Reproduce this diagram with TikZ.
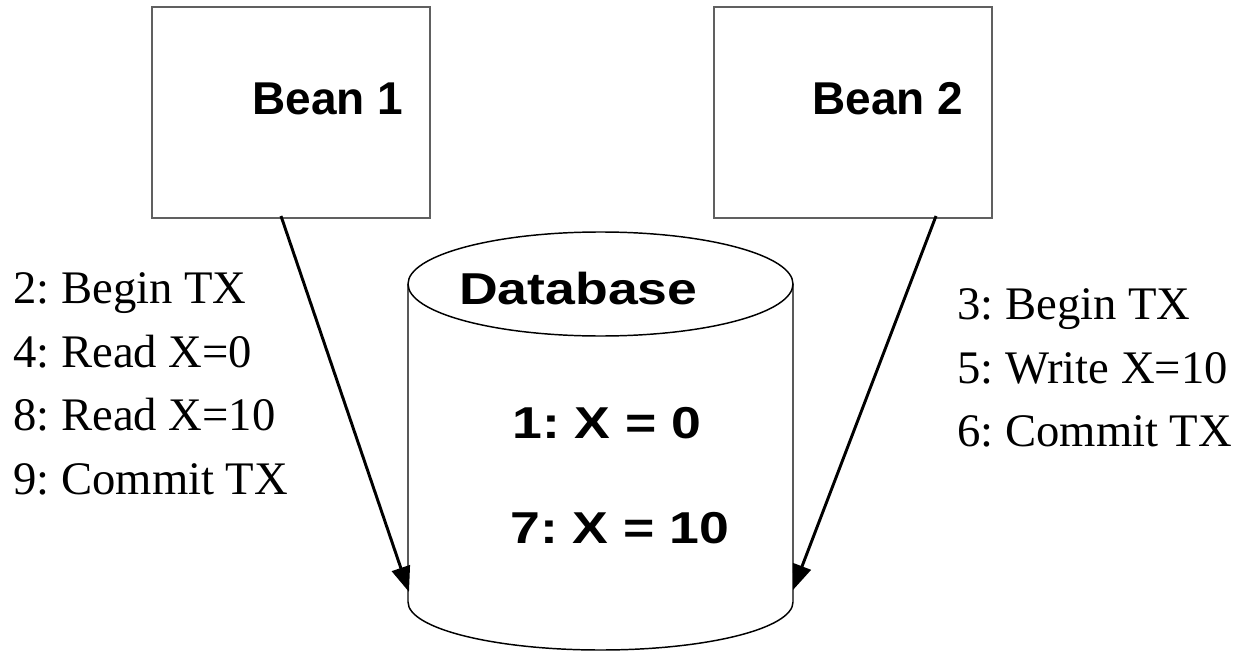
\documentclass[tikz,border=0pt]{standalone}
\usepackage{fontspec}
\setmainfont{Liberation Serif}
\newfontfamily\headfont{Liberation Sans}
\usetikzlibrary{arrows.meta}
\definecolor{boxgray}{RGB}{96,96,96}
\newcommand{\widetext}[1]{\scalebox{1.2}[1]{#1}}
\begin{document}
\frenchspacing
\begin{tikzpicture}[x=0.75pt,y=-0.75pt,
  beanbox/.style={draw=boxgray, line width=0.9pt, minimum width=208.5pt,
    minimum height=158.25pt, inner sep=0pt},
  headtext/.style={anchor=base west, inner sep=0pt, font=\headfont\bfseries\fontsize{33.5pt}{40pt}\selectfont},
  beantext/.style={headtext, font=\headfont\bfseries\fontsize{34.5pt}{41pt}\selectfont},
  steptext/.style={anchor=base west, inner sep=0pt, font=\fontsize{35pt}{42pt}\selectfont},
  call/.style={line width=2.2pt, -{Triangle[length=19pt,width=14pt]}},
  dbline/.style={line width=1.1pt}
]
\useasboundingbox (0,0) rectangle (1241,652);

% the two session beans
\node[beanbox] (bean1) at (291,112.5) {};
\node[beanbox] (bean2) at (853,112.5) {};
\node[beantext] (bean1label) at (252,115) {Bean 1};
\node[beantext] (bean2label) at (812,115) {Bean 2};

% the database cylinder
\draw[dbline] (600.5,284) ellipse [x radius=192.5, y radius=52];
\draw[dbline] (408,284) -- (408,602) arc [start angle=180, end angle=0, x radius=192.5, y radius=48] -- (793,284);
\node[headtext] (dblabel) at (459,304) {\widetext{Database}};
\node[headtext] (state1) at (512,438) {\widetext{1: X = 0}};
\node[headtext] (state7) at (510,543) {\widetext{7: X = 10}};

% connectors from the beans to the database
\coordinate (b1tail) at (281,216);
\coordinate (b2tail) at (936,216);
\coordinate (dbleft) at (409,592);
\coordinate (dbright) at (793,590);
\draw[call] (b1tail) -- (dbleft);
\draw[call] (b2tail) -- (dbright);

% steps performed by bean 1
\node[steptext] (s2) at (13,303) {2: Begin TX};
\node[steptext] (s4) at (13,367) {4: Read X=0};
\node[steptext] (s8) at (13,430) {8: Read X=10};
\node[steptext] (s9) at (13,494) {9: Commit TX};

% steps performed by bean 2
\node[steptext] (s3) at (957,319) {3: Begin TX};
\node[steptext] (s5) at (957,383) {5: Write X=10};
\node[steptext] (s6) at (957,446) {6: Commit TX};
\end{tikzpicture}
\end{document}
